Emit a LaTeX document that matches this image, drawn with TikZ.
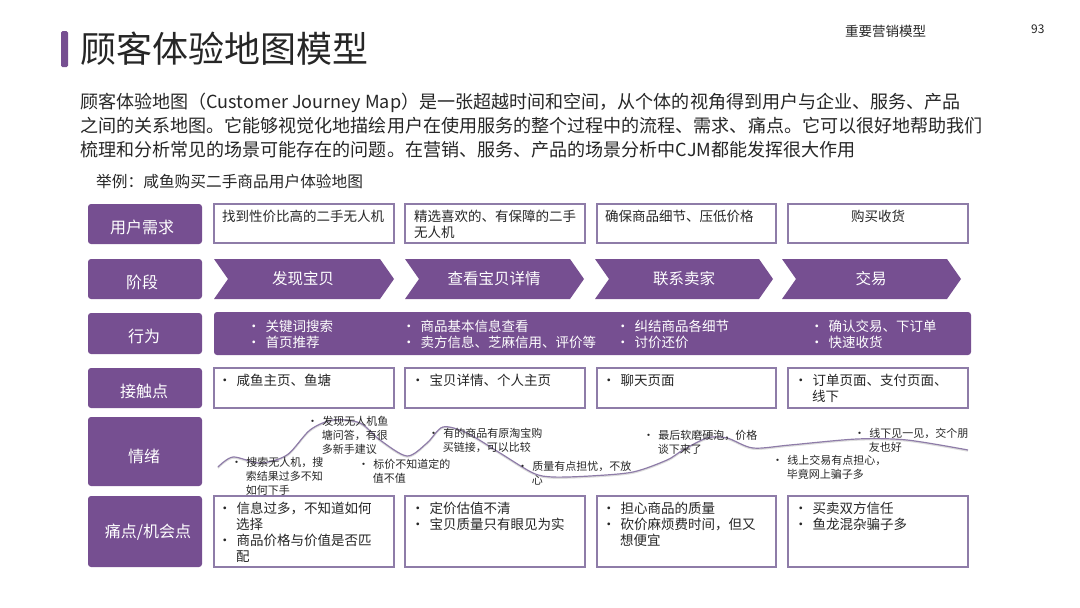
\documentclass[tikz,border=0pt]{standalone}
\usepackage{fontspec}
\setmainfont{Noto Sans CJK SC}
\definecolor{mypurple}{HTML}{764F91}
\definecolor{myline}{HTML}{8E7CA8}
\definecolor{mytext}{HTML}{262626}
\newcommand{\itm}{•\hspace{0.37em}}
\newcommand{\ind}{\hspace{1.33em}}
\tikzset{
	rowlabel/.style={fill=mypurple,draw=none,rounded corners=3pt},
	rowtext/.style={text=white,font=\fontsize{16}{19}\selectfont,inner sep=0pt},
	cellbox/.style={draw=myline,line width=1.2pt,fill=white},
	celltext/.style={text=mytext,font=\fontsize{13.5}{16}\selectfont,align=left,anchor=north west,inner sep=0pt},
	stagearrow/.style={fill=mypurple,draw=none},
	stagetext/.style={text=white,font=\fontsize{15.5}{19}\selectfont,inner sep=0pt},
	acttext/.style={text=white,font=\fontsize{13.5}{16}\selectfont,align=left,anchor=north west,inner sep=0pt},
	moodtext/.style={text=mytext,font=\fontsize{11}{14}\selectfont,align=left,anchor=north west,inner sep=0pt},
}
\begin{document}
\begin{tikzpicture}[x=1pt,y=-1pt]
	\useasboundingbox (0,0) rectangle (1080,608);
	% title
	\fill[mypurple,rounded corners=1.5pt] (61,31) rectangle (68,67);
	\node[anchor=west,inner sep=0pt,text=mytext,font=\fontsize{36}{40}\selectfont] (title) at (80,49) {顾客体验地图模型};
	\node[anchor=west,inner sep=0pt,text=mytext,font=\fontsize{13.5}{15}\selectfont] (section) at (845,31) {重要营销模型};
	\node[anchor=west,inner sep=0pt,text=mytext,font=\fontsize{12}{12}\selectfont] (pageno) at (1031,29) {93};
	% intro
	\node[anchor=north west,inner sep=0pt,text=mytext,align=left,font=\fontsize{18.05}{24}\selectfont] (intro) at (80,93)
		{顾客体验地图（Customer Journey Map）是一张超越时间和空间，从个体的视角得到用户与企业、服务、产品\\
		之间的关系地图。它能够视觉化地描绘用户在使用服务的整个过程中的流程、需求、痛点。它可以很好地帮助我们\\
		梳理和分析常见的场景可能存在的问题。在营销、服务、产品的场景分析中CJM都能发挥很大作用};
	\node[anchor=west,inner sep=0pt,text=mytext,font=\fontsize{15.7}{17}\selectfont] (example) at (96,182) {举例：咸鱼购买二手商品用户体验地图};

	% row labels
	\fill[rowlabel] (88,204) rectangle (202,244);
	\fill[rowlabel] (88,259) rectangle (202,299);
	\fill[rowlabel] (88,313) rectangle (202,354);
	\fill[rowlabel] (88,368) rectangle (202,408);
	\fill[rowlabel] (88,417) rectangle (202,486);
	\fill[rowlabel] (88,496) rectangle (202,567);
	\node[rowtext] (need) at (142,227) {用户需求};
	\node[rowtext] (phase) at (142,282) {阶段};
	\node[rowtext] (action) at (144,336) {行为};
	\node[rowtext] (touch) at (144,391) {接触点};
	\node[rowtext] (mood) at (144,456) {情绪};
	\node[rowtext] (pain) at (148,532) {痛点/机会点};

	% needs
	\draw[cellbox] (214,204) rectangle (394,243);
	\draw[cellbox] (405,204) rectangle (585,243);
	\draw[cellbox] (597,204) rectangle (776,243);
	\draw[cellbox] (788,204) rectangle (968,243);
	\node[celltext] (needa) at (222,210) {找到性价比高的二手无人机};
	\node[celltext] (needb) at (414,210) {精选喜欢的、有保障的二手\\无人机};
	\node[celltext] (needc) at (605,210) {确保商品细节、压低价格};
	\node[celltext] (needd) at (851,210) {购买收货};

	% stages
	\fill[stagearrow] (214,259) -- (380,259) -- (394,279) -- (380,299) -- (214,299) -- (228,279) -- cycle;
	\fill[stagearrow] (405,259) -- (570,259) -- (584,279) -- (570,299) -- (405,299) -- (419,279) -- cycle;
	\fill[stagearrow] (595,259) -- (759,259) -- (773,279) -- (759,299) -- (595,299) -- (609,279) -- cycle;
	\fill[stagearrow] (782,259) -- (947,259) -- (961,279) -- (947,299) -- (782,299) -- (796,279) -- cycle;
	\node[stagetext] (stagea) at (303,279) {发现宝贝};
	\node[stagetext] (stageb) at (494,279) {查看宝贝详情};
	\node[stagetext] (stagec) at (684,279) {联系卖家};
	\node[stagetext] (staged) at (871,279) {交易};

	% actions
	\fill[rowlabel] (214,312) rectangle (971,355);
	\node[acttext] (acta) at (247,320) {\itm 关键词搜索\\\itm 首页推荐};
	\node[acttext] (actb) at (402,320) {\itm 商品基本信息查看\\\itm 卖方信息、芝麻信用、评价等};
	\node[acttext] (actc) at (616,320) {\itm 纠结商品各细节\\\itm 讨价还价};
	\node[acttext] (actd) at (810,320) {\itm 确认交易、下订单\\\itm 快速收货};

	% touch points
	\draw[cellbox] (214,368) rectangle (394,408);
	\draw[cellbox] (405,368) rectangle (585,408);
	\draw[cellbox] (597,368) rectangle (776,408);
	\draw[cellbox] (788,368) rectangle (968,408);
	\node[celltext] (toucha) at (218,374) {\itm 咸鱼主页、鱼塘};
	\node[celltext] (touchb) at (411,374) {\itm 宝贝详情、个人主页};
	\node[celltext] (touchc) at (602,374) {\itm 聊天页面};
	\node[celltext] (touchd) at (794,374) {\itm 订单页面、支付页面、\\\ind 线下};

	% mood curve
	\draw[gray!45,line width=1.5pt,opacity=0.6] plot[smooth,tension=0.5] coordinates {(218,468) (233,458) (260,464) (287,456) (310,431) (333,421) (360,424) (380,441) (407,457) (427,444) (443,428) (467,434) (500,454) (533,474) (553,478) (590,477) (633,473) (667,461) (683,451) (707,439) (727,439) (753,449) (790,446) (857,440) (907,441) (968,451)};
	\draw[myline,line width=1.2pt] plot[smooth,tension=0.5] coordinates {(218,467) (233,457) (260,463) (287,455) (310,430) (333,420) (360,423) (380,440) (407,456) (427,443) (443,427) (467,433) (500,453) (533,473) (553,477) (590,476) (633,472) (667,460) (683,450) (707,438) (727,438) (753,448) (790,445) (857,439) (907,440) (968,450)};
	\node[moodtext] (mooda) at (231,457) {\itm 搜索无人机，搜\\\ind 索结果过多不知\\\ind 如何下手};
	\node[moodtext] (moodb) at (307,416) {\itm 发现无人机鱼\\\ind 塘问答，有很\\\ind 多新手建议};
	\node[moodtext] (moodc) at (358,459) {\itm 标价不知道定的\\\ind 值不值};
	\node[moodtext] (moodd) at (428,428) {\itm 有的商品有原淘宝购\\\ind 买链接，可以比较};
	\node[moodtext] (moode) at (517,461) {\itm 质量有点担忧，不放\\\ind 心};
	\node[moodtext] (moodf) at (643,430) {\itm 最后软磨硬泡，价格\\\ind 谈下来了};
	\node[moodtext] (moodg) at (772,455) {\itm 线上交易有点担心，\\\ind 毕竟网上骗子多};
	\node[moodtext] (moodh) at (854,428) {\itm 线下见一见，交个朋\\\ind 友也好};

	% pain points
	\draw[cellbox] (214,496) rectangle (394,567);
	\draw[cellbox] (405,496) rectangle (585,567);
	\draw[cellbox] (597,496) rectangle (776,567);
	\draw[cellbox] (788,496) rectangle (968,567);
	\node[celltext] (paina) at (218,502) {\itm 信息过多，不知道如何\\\ind 选择\\\itm 商品价格与价值是否匹\\\ind 配};
	\node[celltext] (painb) at (411,502) {\itm 定价估值不清\\\itm 宝贝质量只有眼见为实};
	\node[celltext] (painc) at (602,502) {\itm 担心商品的质量\\\itm 砍价麻烦费时间，但又\\\ind 想便宜};
	\node[celltext] (paind) at (794,502) {\itm 买卖双方信任\\\itm 鱼龙混杂骗子多};
\end{tikzpicture}
\end{document}
